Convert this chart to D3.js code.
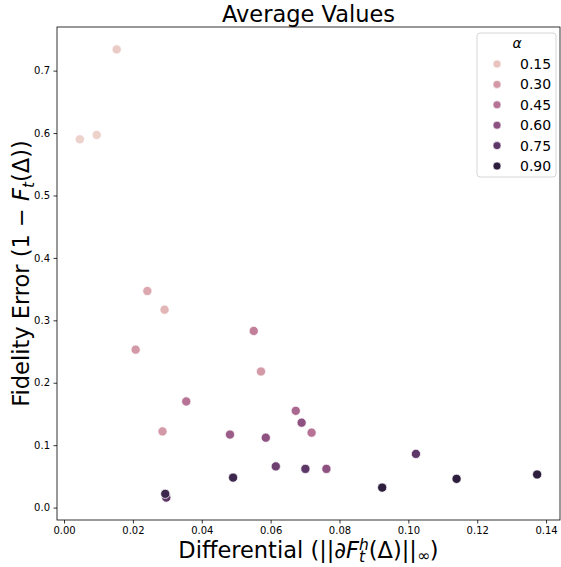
<!DOCTYPE html>
<html lang="en">
<head>
<meta charset="UTF-8" />
<title>Average Values</title>
<script src="https://d3js.org/d3.v7.min.js"></script>
<style>
  body { margin: 0; background: #fff; }
  text { font-family: "DejaVu Sans", sans-serif; }
</style>
</head>
<body>
<div id="chart"></div>
<script>
// data: differential, fidelity error, alpha
const differential = [0.0046, 0.0095, 0.0153, 0.0242, 0.0292, 0.0208, 0.0551, 0.0572, 0.0355, 0.0286,
  0.0482, 0.0586, 0.0615, 0.0491, 0.0297, 0.0294, 0.0673, 0.0690, 0.0719, 0.1022,
  0.0701, 0.0762, 0.0924, 0.1140, 0.1374];
const fidelityError = [0.590, 0.597, 0.734, 0.347, 0.317, 0.253, 0.283, 0.218, 0.170, 0.122,
  0.117, 0.112, 0.066, 0.048, 0.016, 0.022, 0.155, 0.136, 0.120, 0.086,
  0.062, 0.062, 0.032, 0.046, 0.053];
const alphaVals = [0.10, 0.10, 0.12, 0.25, 0.20, 0.30, 0.40, 0.30, 0.45, 0.30,
  0.55, 0.60, 0.70, 0.85, 0.75, 0.85, 0.50, 0.60, 0.45, 0.75,
  0.75, 0.60, 0.90, 0.90, 0.90];
const legendAlphas = [0.15, 0.30, 0.45, 0.60, 0.75, 0.90];
const xTicks = [0.00, 0.02, 0.04, 0.06, 0.08, 0.10, 0.12, 0.14];
const yTicks = [0.0, 0.1, 0.2, 0.3, 0.4, 0.5, 0.6, 0.7];

const width = 561, height = 567;
const margin = { top: 27, right: 1, bottom: 47, left: 57 };
const plotW = width - margin.left - margin.right;
const plotH = height - margin.top - margin.bottom;

const points = differential.map((d, i) => ({ x: d, y: fidelityError[i], a: alphaVals[i] }));

// seaborn-like cubehelix colormap
function cubehelix(t) {
  const x = 0.85 - 0.7 * t;
  const a = 0.8 * x * (1 - x) / 2;
  const phi = 2 * Math.PI * (0.4 * x);
  const c = Math.cos(phi), s = Math.sin(phi);
  const r = x + a * (-0.14861 * c + 1.78277 * s);
  const g = x + a * (-0.29227 * c - 0.90649 * s);
  const b = x + a * (1.97294 * c);
  const cl = v => Math.round(255 * Math.max(0, Math.min(1, v)));
  return d3.rgb(cl(r), cl(g), cl(b)).formatHex();
}
const aExt = d3.extent(alphaVals);
const color = v => cubehelix((v - aExt[0]) / (aExt[1] - aExt[0]));

function padded(ext) {
  const p = (ext[1] - ext[0]) * 0.05;
  return [ext[0] - p, ext[1] + p];
}
const x = d3.scaleLinear().domain(padded(d3.extent(differential))).range([0, plotW]);
const y = d3.scaleLinear().domain(padded(d3.extent(fidelityError))).range([plotH, 0]);

const svg = d3.select("#chart").append("svg")
  .attr("width", width).attr("height", height);
const g = svg.append("g").attr("transform", `translate(${margin.left},${margin.top})`);

// axes
const xAxis = g.append("g").attr("transform", `translate(0,${plotH})`)
  .call(d3.axisBottom(x).tickValues(xTicks).tickFormat(d3.format(".2f")).tickSizeOuter(0).tickSize(3.5).tickPadding(3.5));
const yAxis = g.append("g")
  .call(d3.axisLeft(y).tickValues(yTicks).tickFormat(d3.format(".1f")).tickSizeOuter(0).tickSize(3.5).tickPadding(3.5));
[xAxis, yAxis].forEach(ax => {
  ax.select(".domain").remove();
  ax.selectAll("text").attr("font-size", 10).attr("fill", "#000").attr("font-family", "DejaVu Sans");
  ax.selectAll("line").attr("stroke", "#000").attr("stroke-width", 0.8);
});

// frame
g.append("rect").attr("width", plotW).attr("height", plotH)
  .attr("fill", "none").attr("stroke", "#000").attr("stroke-width", 0.8);

// points
g.selectAll("circle.pt").data(points).enter().append("circle")
  .attr("class", "pt")
  .attr("cx", d => x(d.x)).attr("cy", d => y(d.y)).attr("r", 4.6)
  .attr("fill", d => color(d.a))
  .attr("stroke", "#fff").attr("stroke-width", 0.75);

// title
svg.append("text").attr("x", margin.left + plotW / 2).attr("y", 22)
  .attr("text-anchor", "middle").attr("font-size", 22.5).text("Average Values");

// x label
const xl = svg.append("text").attr("x", margin.left + plotW / 2).attr("y", 558)
  .attr("text-anchor", "middle").attr("font-size", 22.5);
xl.append("tspan").text("Differential (||∂");
xl.append("tspan").attr("font-style", "italic").text("F");
xl.append("tspan").attr("font-style", "italic").attr("font-size", 15.5).attr("dy", 4).text("t");
xl.append("tspan").attr("font-style", "italic").attr("font-size", 15.5).attr("dx", -6).attr("dy", -12).text("h");
xl.append("tspan").attr("dy", 8).text("(Δ)||");
xl.append("tspan").attr("font-size", 15.5).attr("dy", 3).text("∞");
xl.append("tspan").attr("dy", -3).text(")");

// y label
const yl = svg.append("text")
  .attr("transform", `translate(29,${margin.top + plotH / 2}) rotate(-90)`)
  .attr("text-anchor", "middle").attr("font-size", 22.5);
yl.append("tspan").text("Fidelity Error (1 − ");
yl.append("tspan").attr("font-style", "italic").text("F");
yl.append("tspan").attr("font-style", "italic").attr("font-size", 15.5).attr("dy", 5).text("t");
yl.append("tspan").attr("dy", -5).text("(Δ))");

// legend
const lg = svg.append("g").attr("transform", "translate(477,33)");
lg.append("rect").attr("width", 79).attr("height", 144).attr("rx", 3)
  .attr("fill", "#fff").attr("fill-opacity", 0.8).attr("stroke", "#ccc").attr("stroke-width", 0.8);
lg.append("text").attr("x", 40).attr("y", 15).attr("text-anchor", "middle")
  .attr("font-size", 14).attr("font-style", "italic").text("α");
const items = lg.selectAll("g.item").data(legendAlphas).enter().append("g")
  .attr("class", "item")
  .attr("transform", (d, i) => `translate(0,${31 + i * 20.4})`);
items.append("circle").attr("cx", 20).attr("cy", 0).attr("r", 4)
  .attr("fill", d => color(d)).attr("stroke", "#fff").attr("stroke-width", 0.6);
items.append("text").attr("x", 43).attr("y", 5).attr("font-size", 14).text(d => d3.format(".2f")(d));
</script>
</body>
</html>
